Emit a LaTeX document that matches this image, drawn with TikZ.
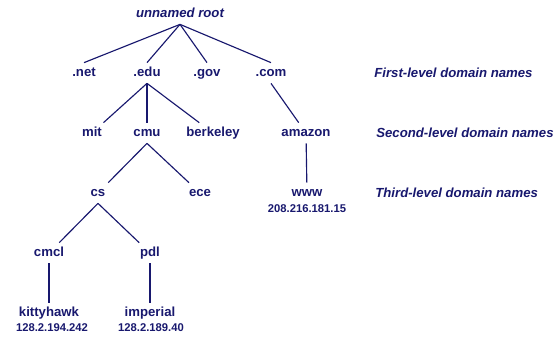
\documentclass[tikz,border=0pt]{standalone}
\usepackage{fontspec}
\setmainfont{Liberation Sans}
\usepackage{tikz}
\definecolor{dnsblue}{RGB}{24,24,110}

\begin{document}
\begin{tikzpicture}[every node/.style={text=dnsblue, font=\fontsize{7.5}{9}\selectfont\bfseries},
  dom/.style={inner xsep=2pt, inner ysep=2.2pt, text height=5.5pt, text depth=1.5pt},
  ip/.style={inner sep=0pt, font=\fontsize{6.4}{7.5}\selectfont\bfseries},
  lvl/.style={anchor=west, inner sep=0pt, font=\fontsize{7.5}{9}\selectfont\bfseries\itshape},
  link/.style={draw=dnsblue, line width=0.65pt}]
		\useasboundingbox (0,0) rectangle (11.14,6.74);
		\node[dom] (root)at(3.6,6.46) {\itshape unnamed root};
		\node[dom] (net)at(1.68,5.28) {.net};
		\node[dom] (edu)at(2.94,5.28) {.edu};
		\node[dom] (gov)at(4.14,5.28) {.gov};
		\node[dom] (com)at(5.42,5.28) {.com};
		\node[dom] (mit)at(1.84,4.08) {mit};
		\node[dom] (cmu)at(2.94,4.08) {cmu};
		\node[dom] (berkeley)at(4.26,4.08) {berkeley};
		\node[dom] (amazon)at(6.12,4.08) {amazon};
		\node[dom] (cs)at(1.96,2.88) {cs};
		\node[dom] (ece)at(4.0,2.88) {ece};
		\node[dom] (www)at(6.14,2.88) {www};
		\node[ip] (wwwip)at(6.14,2.56) {208.216.181.15};
		\node[dom] (cmcl)at(0.98,1.68) {cmcl};
		\node[dom] (pdl)at(3.0,1.68) {pdl};
		\node[dom] (kitty)at(0.98,0.48) {kittyhawk};
		\node[ip] (kittyip)at(1.04,0.18) {128.2.194.242};
		\node[dom] (imperial)at(3.0,0.48) {imperial};
		\node[ip] (imperialip)at(3.02,0.18) {128.2.189.40};
		\draw[link] (root.south) -- (net.north);
		\draw[link] (root.south) -- (edu.north);
		\draw[link] (root.south) -- (gov.north);
		\draw[link] (root.south) -- (com.north);
		\draw[link] (edu.south) -- (mit);
		\draw[link] (edu.south) -- (cmu);
		\draw[link] (edu.south) -- (berkeley);
		\draw[link] (com.south) -- (amazon);
		\draw[link] (cmu.south) -- (cs);
		\draw[link] (cmu.south) -- (ece);
		\draw[link] (amazon) -- (www);
		\draw[link] (cs.south) -- (cmcl);
		\draw[link] (cs.south) -- (pdl);
		\draw[link] (cmcl) -- (kitty);
		\draw[link] (pdl) -- (imperial);

		\node[lvl] (first) at (7.48,5.28) {First-level domain names};
		\node[lvl] (second) at (7.52,4.08) {Second-level domain names};
		\node[lvl] (third) at (7.5,2.88) {Third-level domain names};
		\end{tikzpicture}
\end{document}
